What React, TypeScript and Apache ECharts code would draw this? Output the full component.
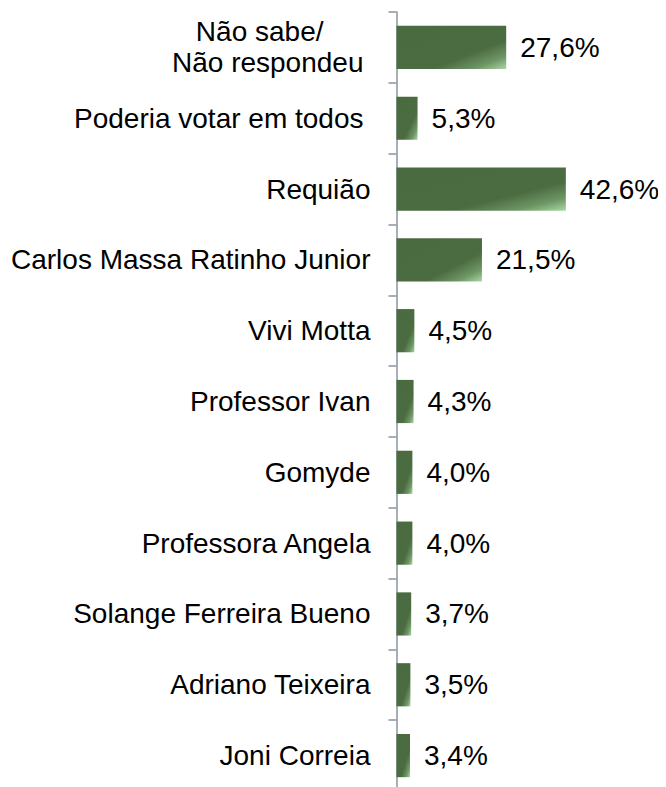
import React, { useEffect, useRef } from "react";
import * as echarts from "echarts";

const categories = [
  "Não sabe/\nNão respondeu",
  "Poderia votar em todos",
  "Requião",
  "Carlos Massa Ratinho Junior",
  "Vivi Motta",
  "Professor Ivan",
  "Gomyde",
  "Professora Angela",
  "Solange Ferreira Bueno",
  "Adriano Teixeira",
  "Joni Correia",
];
const values = [27.6, 5.3, 42.6, 21.5, 4.5, 4.3, 4.0, 4.0, 3.7, 3.5, 3.4];

const FONT = "Liberation Sans";

export default function App() {
  const ref = useRef<HTMLDivElement>(null);
  useEffect(() => {
    if (!ref.current) return;
    const chart = echarts.init(ref.current, null, { renderer: "svg" });
    const barColor = new echarts.graphic.LinearGradient(0, 0, 1, 1, [
      { offset: 0, color: "#4a6a40" },
      { offset: 0.66, color: "#4b6b41" },
      { offset: 0.85, color: "#6e9665" },
      { offset: 1, color: "#a8d8a4" },
    ]);
    chart.setOption({
      animation: false,
      backgroundColor: "#ffffff",
      textStyle: { fontFamily: FONT },
      grid: { left: 388, top: 4, width: 239, height: 779, containLabel: false },
      xAxis: {
        type: "value",
        min: 0,
        max: 60,
        show: false,
      },
      yAxis: {
        type: "category",
        inverse: true,
        data: categories,
        axisLine: { show: true, lineStyle: { color: "#8a949e", width: 1.5 } },
        axisTick: { show: true, length: 8, lineStyle: { color: "#8a949e", width: 1.5 } },
        splitLine: { show: false },
        axisLabel: {
          margin: 26,
          color: "#000",
          fontFamily: FONT,
          fontSize: 28,
          interval: 0,
          formatter: (v: string) => {
            if (v.indexOf("\n") >= 0) {
              const [a, b] = v.split("\n");
              return `{a|${a}}\n{b|${b}}`;
            }
            if (v === "Poderia votar em todos") return `{b|${v}}`;
            return v;
          },
          rich: {
            a: { fontFamily: FONT, fontSize: 28, color: "#000", lineHeight: 31, padding: [0, 47, 0, 0] },
            b: { fontFamily: FONT, fontSize: 28, color: "#000", lineHeight: 31, padding: [0, 7, 0, 0] },
          },
        },
      },
      series: [
        {
          type: "bar",
          data: values,
          barCategoryGap: "39%",
          itemStyle: { color: barColor },
          label: {
            show: true,
            position: "right",
            distance: 14,
            color: "#000",
            fontFamily: FONT,
            fontSize: 28,
            formatter: (p: any) => p.value.toFixed(1).replace(".", ",") + "%",
          },
        },
      ],
    });
    return () => chart.dispose();
  }, []);
  return <div ref={ref} style={{ width: 666, height: 787 }} />;
}
